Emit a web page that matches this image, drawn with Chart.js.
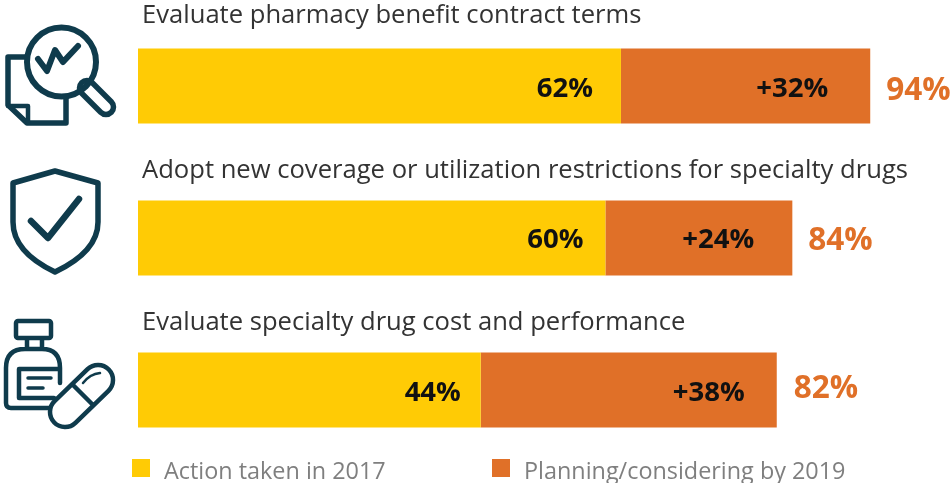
<!DOCTYPE html>
<html>
<head>
<meta charset="utf-8">
<style>
html,body{margin:0;padding:0;background:#fff;overflow:hidden}
#wrap{position:relative;width:950px;height:483px}
</style>
<script src="https://cdn.jsdelivr.net/npm/chart.js@4"></script>
</head>
<body>
<div id="wrap"><canvas id="c" width="950" height="483"></canvas></div>
<script>
const categories = [
  "Evaluate pharmacy benefit contract terms",
  "Adopt new coverage or utilization restrictions for specialty drugs",
  "Evaluate specialty drug cost and performance"
];
const seriesNames = ["Action taken in 2017", "Planning/considering by 2019"];
const actionTaken = [62, 60, 44];
const planning = [32, 24, 38];
const totals = [94, 84, 82];

const YELLOW = "#FFCB05", ORANGE = "#E07028", INK = "#0F3B4C";
const FONT = '"Open Sans", sans-serif';

// Distance of each value label's centre back from the end of its segment.
const actionInset = [56, 50, 48];
const planningInset = [78, 74, 68];
const titleNudge = [-70, -67, -67];
const labelNudge = [3, 2, 3];
const totalNudge = [5, 3, -1];
const totalGap = [16, 16, 17];

function strokePath(ctx, width, build) {
  ctx.save();
  ctx.strokeStyle = INK;
  ctx.lineWidth = width;
  ctx.lineCap = "round";
  ctx.lineJoin = "round";
  ctx.beginPath();
  build(ctx);
  ctx.stroke();
  ctx.restore();
}

function capsule(ctx, x1, y1, x2, y2, r) {
  const a = Math.atan2(y2 - y1, x2 - x1);
  ctx.arc(x1, y1, r, a + Math.PI / 2, a - Math.PI / 2);
  ctx.arc(x2, y2, r, a - Math.PI / 2, a + Math.PI / 2);
  ctx.closePath();
}

function drawMagnifierIcon(ctx) {
  strokePath(ctx, 5.5, c => {
    c.moveTo(25, 57); c.lineTo(8, 57); c.lineTo(8, 105); c.lineTo(27, 123);
    c.lineTo(66, 123); c.lineTo(66, 98);
  });
  strokePath(ctx, 4.5, c => {
    c.moveTo(8, 106); c.lineTo(28, 106); c.lineTo(28, 122);
  });
  strokePath(ctx, 6, c => c.arc(61.5, 62, 34.5, 0, Math.PI * 2));
  strokePath(ctx, 5.5, c => capsule(c, 87, 88, 106, 107, 7.5));
  strokePath(ctx, 6, c => {
    c.moveTo(38, 59); c.lineTo(47, 71); c.lineTo(55, 50); c.lineTo(63, 62); c.lineTo(78, 46);
  });
}

function drawShieldIcon(ctx) {
  strokePath(ctx, 5.5, c => {
    c.moveTo(55, 171); c.lineTo(98, 183); c.lineTo(98, 222);
    c.bezierCurveTo(98, 247, 76, 262, 55, 272);
    c.bezierCurveTo(34, 262, 13, 247, 13, 222);
    c.lineTo(13, 183); c.closePath();
  });
  strokePath(ctx, 6.5, c => {
    c.moveTo(31, 221); c.lineTo(48, 238); c.lineTo(79, 199);
  });
}

function drawMedicineIcon(ctx) {
  strokePath(ctx, 4.5, c => {
    c.roundRect(16, 321, 35, 17, 2);
    c.moveTo(27, 339); c.lineTo(27, 349);
    c.moveTo(42, 339); c.lineTo(42, 349);
    c.moveTo(50, 408); c.lineTo(11, 408);
    c.quadraticCurveTo(6, 408, 6, 403);
    c.lineTo(6, 368);
    c.quadraticCurveTo(6, 349, 25, 349);
    c.lineTo(42, 349);
    c.quadraticCurveTo(60, 349, 60, 368);
    c.lineTo(60, 383);
    c.moveTo(60, 369); c.lineTo(19, 369); c.lineTo(19, 398); c.lineTo(54, 398);
  });
  strokePath(ctx, 3.5, c => {
    c.moveTo(28, 378); c.lineTo(51, 378);
    c.moveTo(28, 388); c.lineTo(43, 388);
  });
  strokePath(ctx, 4.5, c => {
    capsule(c, 65, 412, 98, 380, 15);
    c.moveTo(73, 385); c.lineTo(92, 404);
  });
  strokePath(ctx, 2.5, c => {
    c.moveTo(83, 383); c.quadraticCurveTo(90, 374, 100, 373);
  });
}

const annotations = {
  id: "annotations",
  afterDatasetsDraw(chart) {
    const { ctx, scales: { x, y } } = chart;
    ctx.save();
    ctx.textBaseline = "middle";

    categories.forEach((name, i) => {
      const cy = y.getPixelForValue(i);
      const endA = x.getPixelForValue(actionTaken[i]);
      const endB = x.getPixelForValue(totals[i]);

      ctx.font = "25.6px " + FONT;
      ctx.fillStyle = "#333333";
      ctx.textAlign = "left";
      ctx.fillText(name, 142, cy + titleNudge[i]);

      ctx.font = "bold 27.5px " + FONT;
      ctx.fillStyle = "#111111";
      ctx.textAlign = "center";
      ctx.fillText(actionTaken[i] + "%", endA - actionInset[i], cy + labelNudge[i]);
      ctx.fillText("+" + planning[i] + "%", endB - planningInset[i], cy + labelNudge[i]);

      ctx.font = "bold 31.5px " + FONT;
      ctx.fillStyle = ORANGE;
      ctx.textAlign = "left";
      ctx.fillText(totals[i] + "%", endB + totalGap[i], cy + totalNudge[i]);
    });

    // Legend row under the bars
    const swatchX = [132, 492];
    chart.data.datasets.forEach((ds, i) => {
      ctx.fillStyle = ds.backgroundColor;
      ctx.fillRect(swatchX[i], 459, 18, 18);
      ctx.font = "23.4px " + FONT;
      ctx.fillStyle = "#7F7F7F";
      ctx.textAlign = "left";
      ctx.fillText(ds.label, swatchX[i] + 32, 472);
    });

    drawMagnifierIcon(ctx);
    drawShieldIcon(ctx);
    drawMedicineIcon(ctx);
    ctx.restore();
  }
};

new Chart(document.getElementById("c"), {
  type: "bar",
  data: {
    labels: categories,
    datasets: [
      { label: seriesNames[0], data: actionTaken, backgroundColor: YELLOW },
      { label: seriesNames[1], data: planning, backgroundColor: ORANGE }
    ]
  },
  options: {
    indexAxis: "y",
    responsive: false,
    animation: false,
    layout: { padding: { left: 138, right: 0, top: 10, bottom: 17 } },
    datasets: { bar: { categoryPercentage: 1, barPercentage: 75 / 152, borderWidth: 0 } },
    scales: {
      x: { stacked: true, min: 0, max: 104.24, display: false },
      y: { stacked: true, display: false }
    },
    plugins: { legend: { display: false }, tooltip: { enabled: false } }
  },
  plugins: [annotations]
});
</script>
</body>
</html>
